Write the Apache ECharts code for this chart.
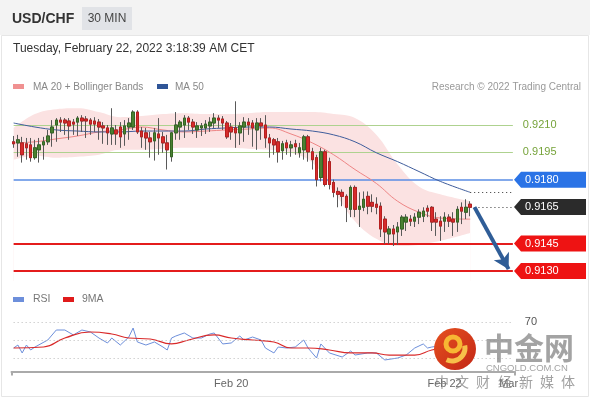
<!DOCTYPE html>
<html><head><meta charset="utf-8">
<script src="https://cdn.jsdelivr.net/npm/echarts@6/dist/echarts.min.js"></script>
<style>html,body{margin:0;padding:0;background:#fff;}#c{width:590px;height:400px;}</style>
</head><body><div id="c"></div>
<script>
// ---------- DATA ----------
const title = 'USD/CHF';
const timeframe = '30 MIN';
const dateText = 'Tuesday, February 22, 2022 3:18:39 AM CET';
const credit = 'Research \u00a9 2022 Trading Central';
const slotCount = 118;               // 108 candles + projection slots
const xTickIdx = [51, 101, 116];
const xTickLabels = ['Feb 20', 'Feb 22', 'Mar'];

// [open, close, low, high]
const candles = [
[0.92008,0.91997,0.91975,0.92040],[0.92002,0.92019,0.91926,0.92046],[0.92002,0.91937,0.91894,0.92035],[0.91997,0.91975,0.91910,0.92029],
[0.91991,0.91921,0.91899,0.92029],[0.91921,0.91975,0.91910,0.92019],[0.91964,0.91991,0.91894,0.92029],[0.91991,0.92008,0.91910,0.92035],
[0.92008,0.92040,0.91991,0.92073],[0.92057,0.92089,0.91981,0.92127],[0.92100,0.92127,0.92008,0.92138],[0.92127,0.92116,0.92062,0.92143],
[0.92127,0.92111,0.92046,0.92138],[0.92122,0.92095,0.92019,0.92138],[0.92116,0.92105,0.92046,0.92133],[0.92116,0.92138,0.92040,0.92149],
[0.92138,0.92122,0.92062,0.92154],[0.92133,0.92122,0.92029,0.92149],[0.92127,0.92105,0.92046,0.92138],[0.92122,0.92105,0.92062,0.92143],
[0.92116,0.92089,0.92019,0.92133],[0.92095,0.92084,0.91997,0.92116],[0.92084,0.92057,0.91991,0.92100],[0.92051,0.92084,0.91991,0.92192],
[0.92073,0.92051,0.91991,0.92100],[0.92089,0.92035,0.91975,0.92116],[0.92051,0.92095,0.91986,0.92127],[0.92089,0.92111,0.92019,0.92138],
[0.92089,0.92171,0.92073,0.92181],[0.92171,0.92062,0.92051,0.92181],[0.92067,0.92035,0.91975,0.92089],[0.92057,0.92029,0.91964,0.92084],
[0.92029,0.92008,0.91921,0.92062],[0.92013,0.92057,0.91905,0.92084],[0.92051,0.92029,0.91937,0.92138],[0.92035,0.92002,0.91948,0.92062],
[0.92002,0.91964,0.91856,0.92046],[0.91926,0.92057,0.91899,0.92062],[0.92057,0.92100,0.92019,0.92171],[0.92089,0.92116,0.92019,0.92127],
[0.92100,0.92138,0.92029,0.92154],[0.92138,0.92116,0.92073,0.92149],[0.92116,0.92089,0.92051,0.92133],[0.92073,0.92095,0.92029,0.92116],
[0.92084,0.92095,0.92040,0.92111],[0.92084,0.92105,0.92051,0.92127],[0.92095,0.92116,0.92062,0.92143],[0.92111,0.92138,0.92084,0.92165],
[0.92138,0.92127,0.92084,0.92154],[0.92133,0.92111,0.92073,0.92149],[0.92111,0.92035,0.92024,0.92122],[0.92089,0.92062,0.92019,0.92111],
[0.92084,0.92057,0.91975,0.92230],[0.92057,0.92095,0.91991,0.92116],[0.92089,0.92116,0.92008,0.92143],[0.92116,0.92100,0.92046,0.92138],
[0.92111,0.92084,0.91981,0.92127],[0.92073,0.92111,0.91964,0.92138],[0.92111,0.92095,0.92019,0.92138],[0.92100,0.92029,0.91975,0.92154],
[0.92029,0.92002,0.91921,0.92051],[0.92019,0.91991,0.91937,0.92029],[0.92008,0.91953,0.91894,0.92029],[0.91959,0.91997,0.91910,0.92013],
[0.92002,0.91975,0.91937,0.92019],[0.91975,0.91991,0.91926,0.92013],[0.91997,0.91981,0.91937,0.92019],[0.91948,0.91975,0.91921,0.92002],
[0.91964,0.92035,0.91910,0.92046],[0.92035,0.91953,0.91899,0.92046],[0.91953,0.91910,0.91856,0.91975],[0.91921,0.91801,0.91763,0.91937],
[0.91812,0.91953,0.91791,0.91975],[0.91953,0.91774,0.91763,0.91964],[0.91899,0.91774,0.91747,0.91921],[0.91785,0.91731,0.91704,0.91801],
[0.91736,0.91720,0.91649,0.91758],[0.91731,0.91709,0.91655,0.91747],[0.91709,0.91649,0.91568,0.91720],[0.91638,0.91758,0.91595,0.91769],
[0.91758,0.91638,0.91595,0.91769],[0.91638,0.91655,0.91541,0.91731],[0.91649,0.91693,0.91628,0.91736],[0.91709,0.91655,0.91611,0.91736],
[0.91676,0.91655,0.91622,0.91720],[0.91666,0.91649,0.91611,0.91704],[0.91655,0.91530,0.91486,0.91676],[0.91584,0.91514,0.91448,0.91600],
[0.91503,0.91530,0.91448,0.91546],[0.91530,0.91503,0.91437,0.91552],[0.91514,0.91541,0.91443,0.91568],[0.91530,0.91595,0.91492,0.91606],
[0.91568,0.91595,0.91519,0.91611],[0.91584,0.91573,0.91546,0.91606],[0.91573,0.91595,0.91541,0.91617],[0.91595,0.91622,0.91557,0.91638],
[0.91600,0.91628,0.91568,0.91649],[0.91644,0.91628,0.91595,0.91660],[0.91649,0.91568,0.91519,0.91655],[0.91584,0.91568,0.91492,0.91622],
[0.91573,0.91546,0.91465,0.91600],[0.91573,0.91595,0.91514,0.91622],[0.91595,0.91573,0.91541,0.91611],[0.91584,0.91568,0.91492,0.91622],
[0.91568,0.91638,0.91514,0.91655],[0.91649,0.91628,0.91557,0.91676],[0.91622,0.91649,0.91584,0.91693],[0.91666,0.91649,0.91600,0.91682]
];

const bandIdx   = [0,5,10,15,20,25,30,35,40,45,50,55,60,65,70,75,80,85,90,95,100,107];
const bandUpper = [0.92084,0.92160,0.92187,0.92192,0.92171,0.92143,0.92149,0.92160,0.92165,0.92160,0.92160,0.92165,0.92171,0.92171,0.92171,0.92160,0.92138,0.92046,0.91883,0.91763,0.91720,0.91682];
const bandLower = [0.91910,0.91932,0.91921,0.91926,0.91937,0.91964,0.91964,0.91970,0.91975,0.91975,0.91975,0.91970,0.91964,0.91948,0.91894,0.91736,0.91573,0.91476,0.91437,0.91443,0.91465,0.91508];
const ma20      = [0.92002,0.92008,0.92024,0.92040,0.92062,0.92073,0.92089,0.92073,0.92062,0.92067,0.92073,0.92078,0.92084,0.92051,0.92002,0.91937,0.91856,0.91780,0.91682,0.91622,0.91590,0.91584];
const ma50      = [0.92111,0.92089,0.92073,0.92067,0.92062,0.92062,0.92067,0.92067,0.92067,0.92078,0.92084,0.92089,0.92089,0.92078,0.92067,0.92046,0.92008,0.91948,0.91899,0.91845,0.91791,0.91731];

const greenLevels = [0.9210, 0.9195];
const pivotLevel = 0.9180;
const lastPrice = 0.9165;
const supportLevels = [0.9145, 0.9130];
const arrowFrom = [108, 0.9165];
const arrowTo = [116, 0.9131];

const rsiIdx = [0,1,2,3,4,5,8,10,12,14,16,18,20,22,23,25,27,28,29,31,33,35,36,37,38,40,42,44,46,47,49,51,53,54,56,58,59,61,62,64,66,68,69,71,72,74,77,79,80,83,85,87,90,92,94,96,97,98,101,103,105,107];
const rsiVals = [41.1,44.4,35.6,44.4,38.9,42.2,50,61.1,61.1,55.6,61.1,58.9,52.2,46.7,52.2,44.4,53.3,63.3,47.8,44.4,47.8,42.2,38.9,52.2,54.4,57.8,52.2,52.2,56.7,57.8,45.6,46.7,54.4,50,53.3,50,41.1,35.6,42.2,41.1,42.2,50,41.1,30,45.6,35.6,31.1,37.8,33.3,35.6,35.6,27.8,30,33.3,41.1,45.6,41.1,42.2,44.4,47.8,52.2,54.4];
const ma9Idx = [0,7,12,18,23,27,32,37,41,47,51,56,61,65,69,74,79,84,88,94,98,102,107];
const ma9Vals = [41.1,42.2,52.2,58.9,56.7,52.2,51.1,45.6,50,55.6,52.2,50,47.8,41.1,41.1,38.9,35.6,35.6,33.3,33.3,38.9,42.2,44.4];
const rsiLevels = [70, 50, 30];

// ---------- BUILD ----------
const cats = Array.from({length: slotCount}, (_, i) => 'c' + i);
const labelAt = {};
xTickIdx.forEach((k, j) => labelAt[k] = xTickLabels[j]);
const pair = (idx, vals) => idx.map((k, j) => [k, vals[j]]);
const bodies = candles.map(([o, c]) => [o, c, Math.min(o, c), Math.max(o, c)]);
const lastIdx = candles.length - 1;
const ma50Last = ma50[ma50.length - 1];
const lastSlot = slotCount - 1;

const chart = echarts.init(document.getElementById('c'), null, {renderer: 'canvas', width: 590, height: 400});
const FONT = 'Liberation Sans, Arial, sans-serif';

function hline(v, style, label) {
  return [{coord: [0, v], lineStyle: style, label: label || {show: false}}, {coord: [lastSlot, v]}];
}
const levelLines = [];
greenLevels.forEach(v => levelLines.push(hline(v, {color: '#aed28f', width: 1, type: 'solid'},
  {show: true, position: 'end', distance: 10, formatter: v.toFixed(4), color: '#76a33a', fontSize: 11, fontFamily: FONT})));
levelLines.push(hline(pivotLevel, {color: '#5a8de4', width: 1.5, type: 'solid'}));
supportLevels.forEach(v => levelLines.push(hline(v, {color: '#e41c1c', width: 2, type: 'solid'})));

const pathLines = [
  [{coord: [lastIdx, ma50Last], lineStyle: {color: '#333', width: 1, type: [1, 3]}, label: {show: false}}, {coord: [lastSlot, ma50Last]}],
  [{coord: [lastIdx + 1, lastPrice], lineStyle: {color: '#333', width: 1, type: [1, 3]}, label: {show: false}}, {coord: [lastSlot, lastPrice]}],
  [{coord: arrowFrom, symbol: 'none', lineStyle: {color: '#2f5d97', width: 4, type: 'solid'}, label: {show: false}},
   {coord: arrowTo, symbol: 'arrow', symbolSize: [13, 15]}]
];

const option = {
  animation: false,
  backgroundColor: '#ffffff',
  grid: [
    {left: 11.5, right: 75, top: 94, height: 187},
    {left: 11.5, right: 75, top: 299.5, height: 72}
  ],
  xAxis: [
    {type: 'category', gridIndex: 0, data: cats, boundaryGap: true, show: false},
    {type: 'category', gridIndex: 1, data: cats, boundaryGap: true,
      axisLine: {show: true, lineStyle: {color: '#aaaaaa', width: 2}},
      axisTick: {show: true, interval: (i) => i === 0, length: 4, lineStyle: {color: '#aaaaaa', width: 2}},
      axisLabel: {interval: 0, hideOverlap: false, margin: 7, color: '#666', fontSize: 11, fontFamily: FONT,
        formatter: (val, i) => labelAt[i] || ''}}
  ],
  yAxis: [
    {type: 'value', gridIndex: 0, min: 0.91245, max: 0.92270, show: false, splitLine: {show: false}},
    {type: 'value', gridIndex: 1, min: 15, max: 95, show: false, splitLine: {show: false}}
  ],
  series: [
    {type: 'line', xAxisIndex: 0, yAxisIndex: 0, data: pair(bandIdx, bandUpper), smooth: 0.4, symbol: 'none',
      lineStyle: {width: 0}, areaStyle: {color: '#fbe2e2', opacity: 1, origin: 'start'}, z: 1},
    {type: 'line', xAxisIndex: 0, yAxisIndex: 0, data: pair(bandIdx, bandLower), smooth: 0.4, symbol: 'none',
      lineStyle: {width: 0}, areaStyle: {color: '#ffffff', opacity: 1, origin: 'start'}, z: 1,
      markLine: {silent: true, precision: 5, symbol: ['none', 'none'], animation: false, z: 2, data: levelLines}},
    {type: 'line', xAxisIndex: 0, yAxisIndex: 0, data: pair(bandIdx, ma20), smooth: 0.4, symbol: 'none',
      lineStyle: {color: '#ee8585', width: 1}, z: 3},
    {type: 'line', xAxisIndex: 0, yAxisIndex: 0, data: pair(bandIdx, ma50), smooth: 0.4, symbol: 'none',
      lineStyle: {color: '#3f5d9c', width: 1}, z: 3},
    {type: 'candlestick', xAxisIndex: 0, yAxisIndex: 0, data: candles, barWidth: 3,
      itemStyle: {color: '#595959', color0: '#595959', borderColor: '#595959', borderColor0: '#595959', borderWidth: 1}, z: 4},
    {type: 'candlestick', xAxisIndex: 0, yAxisIndex: 0, data: bodies, barWidth: 3,
      itemStyle: {color: '#4a8032', color0: '#d62b2b', borderColor: '#356624', borderColor0: '#b52020', borderWidth: 1}, z: 5},
    {type: 'line', xAxisIndex: 0, yAxisIndex: 0, data: pair([lastIdx], [lastPrice]), symbol: 'none', lineStyle: {width: 0}, z: 6,
      markLine: {silent: true, precision: 5, symbol: ['none', 'none'], animation: false, z: 10, data: pathLines}},
    {type: 'line', xAxisIndex: 1, yAxisIndex: 1, data: pair(rsiIdx, rsiVals), symbol: 'none',
      lineStyle: {color: '#6d8fdb', width: 1}, z: 3,
      markLine: {silent: true, symbol: ['none', 'none'], animation: false,
        data: rsiLevels.map(v => [{coord: [0, v], lineStyle: {color: '#bbbbbb', width: 1, type: [1, 3]},
          label: {show: v === 70, position: 'end', distance: 12, formatter: String(v), color: '#555', fontSize: 11, fontFamily: FONT}},
          {coord: [lastSlot, v]}])}},
    {type: 'line', xAxisIndex: 1, yAxisIndex: 1, data: pair(ma9Idx, ma9Vals), smooth: 0.5, symbol: 'none',
      lineStyle: {color: '#d92a2a', width: 1.2}, z: 4}
  ]
};
chart.setOption(option);

// ---------- TEXT + LABEL TAGS ----------
const g = [];
g.push({type: 'rect', z: -10, shape: {x: 0, y: 0, width: 590, height: 35}, style: {fill: '#f3f3f3'}, silent: true});
g.push({type: 'rect', z: -10, shape: {x: 1.5, y: 35.5, width: 587, height: 361}, style: {fill: 'none', stroke: '#e6e6e6', lineWidth: 1}, silent: true});
g.push({type: 'text', style: {x: 12, y: 19, text: title, font: 'bold 14px ' + FONT, fill: '#333', textVerticalAlign: 'middle'}});
g.push({type: 'rect', shape: {x: 82, y: 7, width: 50, height: 23}, style: {fill: '#e1e3e7'}});
g.push({type: 'text', style: {x: 107, y: 19, text: timeframe, font: '12px ' + FONT, fill: '#444', textAlign: 'center', textVerticalAlign: 'middle'}});
g.push({type: 'text', style: {x: 13, y: 49, text: dateText, font: '12px ' + FONT, fill: '#333', textVerticalAlign: 'middle'}});
g.push({type: 'rect', shape: {x: 13, y: 84, width: 11, height: 5}, style: {fill: '#f09191'}});
g.push({type: 'text', style: {x: 33, y: 87, text: 'MA 20 + Bollinger Bands', font: '10px ' + FONT, fill: '#888', textVerticalAlign: 'middle'}});
g.push({type: 'rect', shape: {x: 157, y: 84, width: 11, height: 5}, style: {fill: '#2f5597'}});
g.push({type: 'text', style: {x: 175, y: 87, text: 'MA 50', font: '10px ' + FONT, fill: '#888', textVerticalAlign: 'middle'}});
g.push({type: 'text', style: {x: 581, y: 87, text: credit, font: '10px ' + FONT, fill: '#999', textAlign: 'right', textVerticalAlign: 'middle'}});
g.push({type: 'rect', shape: {x: 13, y: 297, width: 11, height: 5}, style: {fill: '#6d8fdb'}});
g.push({type: 'text', style: {x: 33, y: 299.5, text: 'RSI', font: '10.5px ' + FONT, fill: '#777', textVerticalAlign: 'middle'}});
g.push({type: 'rect', shape: {x: 63, y: 297, width: 11, height: 5}, style: {fill: '#e01b1b'}});
g.push({type: 'text', style: {x: 82, y: 299.5, text: '9MA', font: '10.5px ' + FONT, fill: '#777', textVerticalAlign: 'middle'}});

function tag(value, color) {
  const y = chart.convertToPixel({yAxisIndex: 0}, value);
  g.push({type: 'polygon', z: 20, shape: {points: [[514, y], [521, y - 8], [586, y - 8], [586, y + 8], [521, y + 8]]}, style: {fill: color}});
  g.push({type: 'text', z: 21, style: {x: 525, y: y, text: value.toFixed(4), font: '11px ' + FONT, fill: '#fff', textVerticalAlign: 'middle'}});
}
tag(pivotLevel, '#2a73e6');
tag(lastPrice, '#2b2b2b');
supportLevels.forEach(v => tag(v, '#ee1313'));

// watermark
g.push({type: 'circle', z: 30, shape: {cx: 455, cy: 349, r: 21}, style: {fill: new echarts.graphic.LinearGradient(0, 0, 1, 1, [{offset: 0, color: '#e5501f'}, {offset: 1, color: '#c32716'}])}});
g.push({type: 'arc', z: 31, shape: {cx: 453, cy: 344, r: 7, startAngle: 0, endAngle: Math.PI * 2}, style: {stroke: '#f7b733', lineWidth: 5, fill: 'none'}});
g.push({type: 'arc', z: 31, shape: {cx: 452, cy: 348, r: 13, startAngle: -0.2, endAngle: 2.0}, style: {stroke: '#f7c04a', lineWidth: 5, fill: 'none'}});
g.push({type: 'text', z: 30, style: {x: 484, y: 348, text: '中金网', font: 'bold 30px "Noto Sans CJK SC"', fill: 'rgba(140,140,140,0.8)', textVerticalAlign: 'middle'}});
g.push({type: 'text', z: 30, style: {x: 486, y: 368, text: 'CNGOLD.COM.CN', font: '9.5px ' + FONT, fill: 'rgba(140,140,140,0.8)', textVerticalAlign: 'middle'}});
const slogan = ['中', '文', '财', '经', '新', '媒', '体'];
const sloganX = [442, 462, 483, 505, 526, 547, 568];
slogan.forEach((ch, k) => g.push({type: 'text', z: 30, style: {x: sloganX[k], y: 382, text: ch, font: '14px "Noto Sans CJK SC"', fill: 'rgba(130,130,130,0.75)', textAlign: 'center', textVerticalAlign: 'middle'}}));

chart.setOption({graphic: {elements: g}});
</script></body></html>
